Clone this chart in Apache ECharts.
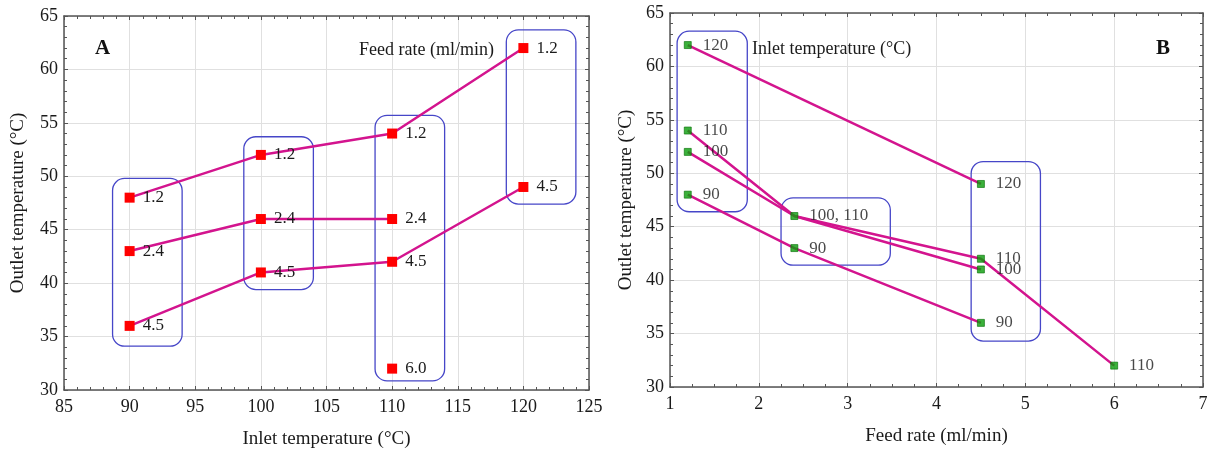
<!DOCTYPE html>
<html>
<head>
<meta charset="utf-8">
<script src="https://cdn.jsdelivr.net/npm/echarts@6/dist/echarts.min.js"></script>
<style>html,body{margin:0;padding:0;background:#fff}#c{width:1214px;height:454px}</style>
</head>
<body>
<div id="c"></div>
<script>
// ---- Panel A: outlet temperature vs inlet temperature, per feed rate ----
const aFeed12 = [[90, 48], [100, 52], [110, 54], [120, 62]];
const aFeed24 = [[90, 43], [100, 46], [110, 46]];
const aFeed45 = [[90, 36], [100, 41], [110, 42], [120, 49]];
const aFeed60 = [[110, 32]];
const aNames = ['1.2', '2.4', '4.5', '6.0'];
// group boxes [xMin, xMax, yMin, yMax] in data units
const aBoxes = [[88.7, 94.0, 34.1, 49.8], [98.7, 104.0, 39.4, 53.7], [108.7, 114.0, 30.85, 55.7], [118.7, 124.0, 47.4, 63.7]];

// ---- Panel B: outlet temperature vs feed rate, per inlet temperature ----
const bInlet120 = [[1.2, 62], [4.5, 49]];
const bInlet110 = [[1.2, 54], [2.4, 46], [4.5, 42], [6, 32]];
const bInlet100 = [[1.2, 52], [2.4, 46], [4.5, 41]];
const bInlet90 = [[1.2, 48], [2.4, 43], [4.5, 36]];
const bLabels = [[1.2, 62, '120'], [1.2, 54, '110'], [1.2, 52, '100'], [1.2, 48, '90'],
  [2.4, 46, '100, 110'], [2.4, 43, '90'], [4.5, 49, '120'], [4.5, 42, '110'],
  [4.5, 41, '100'], [4.5, 36, '90'], [6, 32, '110']];
const bBoxes = [[1.08, 1.87, 46.4, 63.3], [2.25, 3.48, 41.4, 47.7], [4.39, 5.17, 34.3, 51.1]];

const FONT = 'Liberation Serif';
const TXT = '#1a1a1a';
const LINE = '#d3148e';
const FRAME = '#555';

function boxItem(params, api) {
  const p0 = api.coord([api.value(0), api.value(3)]);
  const p1 = api.coord([api.value(1), api.value(2)]);
  return {
    type: 'rect',
    shape: { x: p0[0], y: p0[1], width: p1[0] - p0[0], height: p1[1] - p0[1], r: 12 },
    style: { fill: 'none', stroke: '#4646c8', lineWidth: 1.3 }
  };
}

function mainX(gi, min, max, interval, minorSplit, name, gap) {
  return {
    gridIndex: gi, type: 'value', min: min, max: max, interval: interval, position: 'bottom',
    name: name, nameLocation: 'middle', nameGap: gap,
    nameTextStyle: { fontFamily: FONT, fontSize: 19, color: TXT },
    axisLine: { show: true, onZero: false, lineStyle: { color: FRAME, width: 1.5 } },
    axisTick: { show: true, inside: true, length: 4, lineStyle: { color: FRAME } },
    minorTick: { show: true, splitNumber: minorSplit, length: 3, lineStyle: { color: FRAME } },
    axisLabel: { fontFamily: FONT, fontSize: 18, color: TXT, margin: 8 },
    splitLine: { show: true, lineStyle: { color: '#e0e0e0', width: 1 } }
  };
}
function topX(gi, min, max, interval, minorSplit) {
  return {
    gridIndex: gi, type: 'value', min: min, max: max, interval: interval, position: 'top',
    axisLine: { show: true, onZero: false, lineStyle: { color: FRAME, width: 1.5 } },
    axisTick: { show: true, inside: true, length: 4, lineStyle: { color: FRAME } },
    minorTick: { show: true, splitNumber: minorSplit, length: 3, lineStyle: { color: FRAME } },
    axisLabel: { show: false }, splitLine: { show: false }
  };
}
function mainY(gi, name, gap) {
  return {
    gridIndex: gi, type: 'value', min: 30, max: 65, interval: 5, position: 'left',
    name: name, nameLocation: 'middle', nameGap: gap,
    nameTextStyle: { fontFamily: FONT, fontSize: 19, color: TXT },
    axisLine: { show: true, onZero: false, lineStyle: { color: FRAME, width: 1.5 } },
    axisTick: { show: true, inside: true, length: 4, lineStyle: { color: FRAME } },
    minorTick: { show: true, splitNumber: 5, length: 3, lineStyle: { color: FRAME } },
    axisLabel: { fontFamily: FONT, fontSize: 18, color: TXT, margin: 6 },
    splitLine: { show: true, lineStyle: { color: '#e0e0e0', width: 1 } }
  };
}
function rightY(gi) {
  return {
    gridIndex: gi, type: 'value', min: 30, max: 65, interval: 5, position: 'right',
    axisLine: { show: true, onZero: false, lineStyle: { color: FRAME, width: 1.5 } },
    axisTick: { show: true, inside: true, length: 4, lineStyle: { color: FRAME } },
    minorTick: { show: true, splitNumber: 5, length: 3, lineStyle: { color: FRAME } },
    axisLabel: { show: false }, splitLine: { show: false }
  };
}

function aLine(name, data) {
  return {
    type: 'line', name: name, xAxisIndex: 0, yAxisIndex: 0, data: data, z: 3,
    symbol: 'rect', symbolSize: 10, showSymbol: true,
    itemStyle: { color: '#ff0000' },
    lineStyle: { color: LINE, width: 2.5 },
    label: { show: true, position: 'right', distance: 8, formatter: () => name,
      fontFamily: FONT, fontSize: 17, color: TXT },
    emphasis: { disabled: true }, animation: false
  };
}
function bLine(data) {
  return {
    type: 'line', xAxisIndex: 2, yAxisIndex: 2, data: data, z: 3,
    showSymbol: false, lineStyle: { color: LINE, width: 2.5 },
    emphasis: { disabled: true }, animation: false
  };
}

const option = {
  animation: false,
  grid: [
    { left: 64, top: 16, width: 525, height: 374 },
    { left: 670, top: 13, width: 533, height: 374 }
  ],
  xAxis: [
    mainX(0, 85, 125, 5, 5, 'Inlet temperature (°C)', 40),
    topX(0, 85, 125, 5, 5),
    mainX(1, 1, 7, 1, 4, 'Feed rate (ml/min)', 40),
    topX(1, 1, 7, 1, 4)
  ],
  yAxis: [
    mainY(0, 'Outlet temperature (°C)', 36),
    rightY(0),
    mainY(1, 'Outlet temperature (°C)', 34),
    rightY(1)
  ],
  title: [
    { text: 'A', left: 90, top: 33, textStyle: { fontFamily: FONT, fontSize: 21, fontWeight: 'bold', color: '#111' } },
    { text: 'Feed rate (ml/min)', left: 354, top: 36, textStyle: { fontFamily: FONT, fontSize: 18, fontWeight: 'normal', color: TXT } },
    { text: 'B', left: 1151, top: 33, textStyle: { fontFamily: FONT, fontSize: 21, fontWeight: 'bold', color: '#111' } },
    { text: 'Inlet temperature (°C)', left: 747, top: 35, textStyle: { fontFamily: FONT, fontSize: 18, fontWeight: 'normal', color: TXT } }
  ],
  series: [
    { type: 'custom', xAxisIndex: 0, yAxisIndex: 0, data: aBoxes, renderItem: boxItem, z: 1, silent: true },
    aLine(aNames[0], aFeed12),
    aLine(aNames[1], aFeed24),
    aLine(aNames[2], aFeed45),
    aLine(aNames[3], aFeed60),
    { type: 'custom', xAxisIndex: 2, yAxisIndex: 2, data: bBoxes, renderItem: boxItem, z: 1, silent: true },
    bLine(bInlet120), bLine(bInlet110), bLine(bInlet100), bLine(bInlet90),
    {
      type: 'scatter', xAxisIndex: 2, yAxisIndex: 2, data: bLabels, z: 5,
      symbol: 'rect', symbolSize: 7,
      itemStyle: { color: '#0a9e0a', borderColor: '#067006', borderWidth: 0.8 },
      label: { show: true, position: 'right', distance: 11, formatter: p => p.data[2],
        fontFamily: FONT, fontSize: 17, color: TXT },
      emphasis: { disabled: true }
    }
  ]
};
const chart = echarts.init(document.getElementById('c'), null, { renderer: 'canvas' });
chart.setOption(option);
</script>
</body>
</html>
